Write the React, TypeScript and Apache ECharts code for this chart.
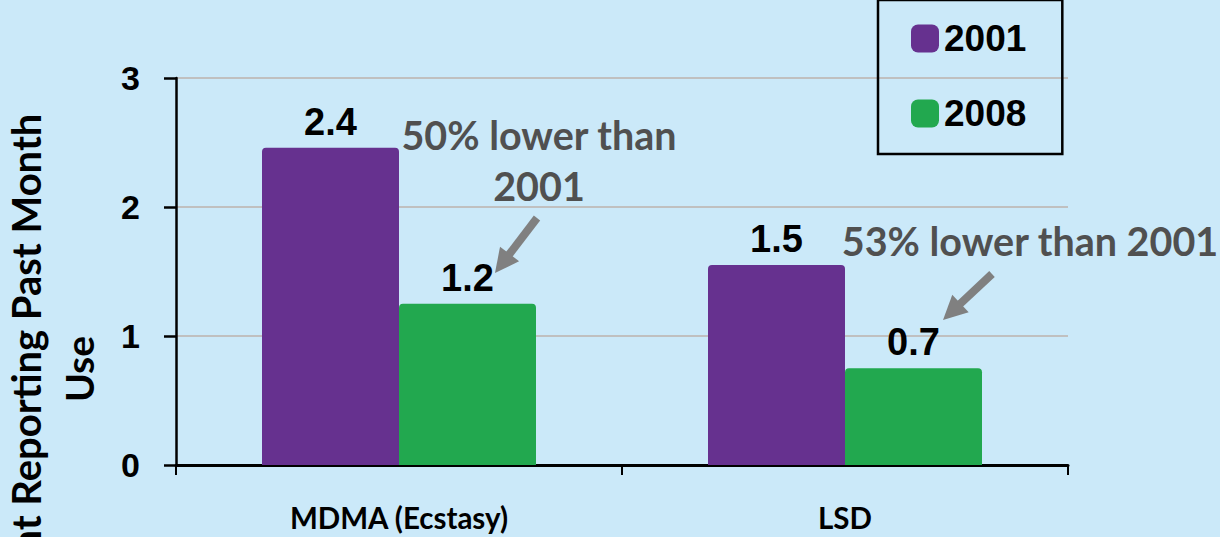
import React, { useEffect, useRef } from "react";
import * as echarts from "echarts";

const categories = ["MDMA (Ecstasy)", "LSD"];
const seriesNames = ["2001", "2008"];
const values2001 = [2.46, 1.55];
const values2008 = [1.25, 0.75];
const yMin = 0;
const yMax = 3;
const yInterval = 1;
const yTitleLine1 = "Percent Reporting Past Month";
const yTitleLine2 = "Use";
const note1 = "50% lower than\n2001";
const note2 = "53% lower than 2001";

const PURPLE = "#66318F";
const GREEN = "#22A84F";
const BG = "#CBE9F9";
const ARIAL = "'Liberation Sans', Arial, sans-serif";
const CAL = "Lato, 'Open Sans', sans-serif";

function arrow(x1: number, y1: number, x2: number, y2: number) {
  const dx = x2 - x1;
  const dy = y2 - y1;
  const len = Math.sqrt(dx * dx + dy * dy);
  const ux = dx / len;
  const uy = dy / len;
  const head = 24;
  const hw = 12;
  const bx = x2 - ux * head;
  const by = y2 - uy * head;
  const px = -uy;
  const py = ux;
  return [
    {
      type: "line",
      shape: { x1, y1, x2: bx + ux * 2, y2: by + uy * 2 },
      style: { stroke: "#808080", lineWidth: 8 },
      z: 10,
    },
    {
      type: "polygon",
      shape: {
        points: [
          [x2, y2],
          [bx + px * hw, by + py * hw],
          [bx - px * hw, by - py * hw],
        ],
      },
      style: { fill: "#808080" },
      z: 10,
    },
  ];
}

const fmt = (p: any) => (Math.floor(p.value * 10 + 1e-9) / 10).toFixed(1);

export default function App() {
  const ref = useRef<HTMLDivElement>(null);
  useEffect(() => {
    document.body.style.margin = "0";
    const chart = echarts.init(ref.current!, null, { renderer: "svg" });
    const labelStyle = {
      show: true,
      position: "top",
      distance: 7,
      formatter: fmt,
      fontFamily: ARIAL,
      fontWeight: "bold",
      fontSize: 38,
      lineHeight: 38,
      color: "#000",
    };
    chart.setOption({
      animation: false,
      backgroundColor: BG,
      grid: { left: 176, right: 152, top: 78, bottom: 72, containLabel: false },
      legend: {
        data: seriesNames,
        orient: "vertical",
        left: 878,
        top: 0,
        itemWidth: 28,
        itemHeight: 28,
        itemGap: 38,
        icon: "roundRect",
        padding: [20, 36, 22, 33],
        borderColor: "#000",
        borderWidth: 2.5,
        textStyle: {
          fontFamily: ARIAL,
          fontWeight: "bold",
          fontSize: 37,
          color: "#000",
        },
      },
      xAxis: {
        type: "category",
        data: categories,
        axisLine: { lineStyle: { color: "#000", width: 3 } },
        axisTick: { show: true, length: 10, lineStyle: { color: "#000", width: 2 } },
        axisLabel: {
          margin: 37,
          fontFamily: CAL,
          fontWeight: "bold",
          fontSize: 29.5,
          color: "#000",
        },
      },
      yAxis: {
        type: "value",
        min: yMin,
        max: yMax,
        interval: yInterval,
        axisLine: { show: true, lineStyle: { color: "#000", width: 2.5 } },
        axisTick: { show: true, length: 12, lineStyle: { color: "#000", width: 2.5 } },
        splitLine: { lineStyle: { color: "#C0C0C0", width: 2 } },
        axisLabel: {
          margin: 36,
          fontFamily: ARIAL,
          fontWeight: "bold",
          fontSize: 34,
          color: "#000",
        },
      },
      series: [
        {
          name: seriesNames[0],
          type: "bar",
          data: values2001,
          barWidth: 137,
          barGap: "0%",
          itemStyle: { color: PURPLE, borderRadius: [4, 4, 0, 0] },
          label: labelStyle,
        },
        {
          name: seriesNames[1],
          type: "bar",
          data: values2008,
          barWidth: 137,
          barGap: "0%",
          itemStyle: { color: GREEN, borderRadius: [4, 4, 0, 0] },
          label: labelStyle,
        },
      ],
      graphic: [
        {
          type: "text",
          x: 26,
          y: 383,
          rotation: Math.PI / 2,
          style: {
            text: yTitleLine1,
            fontFamily: CAL,
            fontWeight: "bold",
            fontSize: 40,
            align: "center",
            verticalAlign: "middle",
            fill: "#000",
          },
        },
        {
          type: "text",
          x: 79,
          y: 369,
          rotation: Math.PI / 2,
          style: {
            text: yTitleLine2,
            fontFamily: CAL,
            fontWeight: "bold",
            fontSize: 39,
            align: "center",
            verticalAlign: "middle",
            fill: "#000",
          },
        },
        {
          type: "text",
          x: 539,
          y: 160,
          style: {
            text: note1,
            fontFamily: CAL,
            fontWeight: "bold",
            fontSize: 39.5,
            lineHeight: 51,
            align: "center",
            verticalAlign: "middle",
            fill: "#505050",
          },
        },
        {
          type: "text",
          x: 1030,
          y: 240,
          style: {
            text: note2,
            fontFamily: CAL,
            fontWeight: "bold",
            fontSize: 39.5,
            align: "center",
            verticalAlign: "middle",
            fill: "#505050",
          },
        },
        ...arrow(537, 218, 495, 273),
        ...arrow(992, 274, 943, 320),
      ],
    });
    return () => chart.dispose();
  }, []);
  return (
    <div
      ref={ref}
      style={{ position: "fixed", left: 0, top: 0, width: 1220, height: 537 }}
    />
  );
}
